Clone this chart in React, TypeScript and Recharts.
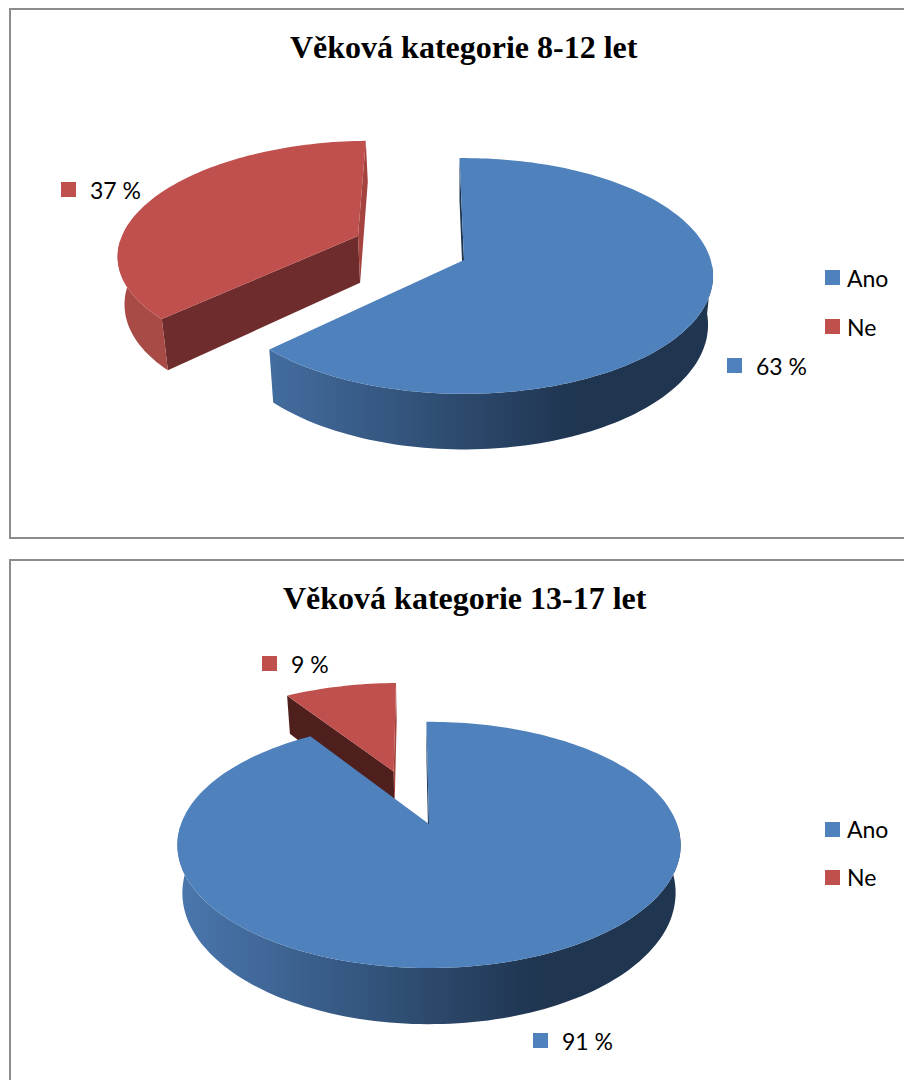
import React from 'react';
import { PieChart, Pie, Legend } from 'recharts';

// Chart data
const answers = ['Ano', 'Ne'];
const youngValues = [63, 37];
// the small slice goes first here, so the big one is painted over it
const olderAnswers = ['Ne', 'Ano'];
const olderValues = [9, 91];

const COLORS: Record<string, string> = { Ano: '#4f81bd', Ne: '#c0504d' };
const LABEL_FONT = 'Lato, "Open Sans", sans-serif';

function toRows(names: string[], values: number[]) {
  return names.map((name, i) => ({ name, value: values[i], fill: COLORS[name] }));
}

// Draws one slice as a tilted 3D wedge, from the angles that Pie works out
function Slice3D(props: any, view: any) {
  const { cx, cy, outerRadius, startAngle, endAngle, name } = props;
  const rad = Math.PI / 180;
  const pulled = name === 'Ne';
  const ox = pulled ? view.pushX : 0;
  const oy = pulled ? view.pushY : 0;
  const size = pulled ? view.pulledSize : 1;

  const top = (wx: number, wy: number) => {
    const s = 1 / (1 - view.k * wy);
    return [cx + outerRadius * wx * s, cy + outerRadius * view.tilt * wy * s];
  };
  const bottom = (wx: number, wy: number) => {
    const s = 1 / (1 - view.k * wy);
    const p = top(wx, wy);
    return [cx + (p[0] - cx) * 0.98, p[1] + view.depth * s];
  };
  const rim = (a: number, fn: any) => fn(ox + size * Math.cos(a * rad), oy - size * Math.sin(a * rad));
  const d = (pts: number[][]) =>
    'M' + pts.map((p) => p[0].toFixed(1) + ',' + p[1].toFixed(1)).join('L') + 'Z';

  const angles: number[] = [];
  const steps = Math.ceil(Math.abs(endAngle - startAngle) / 1.5);
  for (let i = 0; i <= steps; i++) angles.push(startAngle + ((endAngle - startAngle) * i) / steps);

  const apexTop = top(ox, oy);
  const apexBottom = bottom(ox, oy);
  const topFace = [apexTop, ...angles.map((a) => rim(a, top))];
  const wallAt = (a: number) => [apexTop, rim(a, top), rim(a, bottom), apexBottom];

  // outer wall as small quads, only the part that faces the viewer
  let outerPath = '';
  for (let i = 0; i < steps; i++) {
    const a = angles[i];
    const b = angles[i + 1];
    if (-Math.sin(a * rad) < 0.05 && -Math.sin(b * rad) < 0.05) continue;
    outerPath += d([rim(a, top), rim(b, top), rim(b, bottom), rim(a, bottom)]);
  }

  const walls = view.walls[name];
  const gradId = view.id + name;

  return (
    <g>
      <defs>
        <linearGradient id={gradId} gradientUnits="userSpaceOnUse" x1={cx - 250} x2={cx + 110} y1={0} y2={0}>
          {name === 'Ano' ? (
            <>
              <stop offset="0" stopColor="#4a77ae" />
              <stop offset="1" stopColor="#1f3550" />
            </>
          ) : (
            <>
              <stop offset="0" stopColor="#a84a46" />
              <stop offset="1" stopColor="#9c4340" />
            </>
          )}
        </linearGradient>
      </defs>
      {walls[0] && <path d={d(wallAt(startAngle))} fill={walls[0]} />}
      {walls[1] && <path d={d(wallAt(endAngle))} fill={walls[1]} />}
      <path d={outerPath} fill={`url(#${gradId})`} />
      <path d={d(topFace)} fill={props.fill} />
    </g>
  );
}

function SliceLabel(props: any, spots: any) {
  const spot = spots[props.name];
  return (
    <g>
      <rect x={spot.x} y={spot.y} width={15} height={15} fill={props.fill} />
      <text
        x={spot.x + 29}
        y={spot.y + 8}
        dominantBaseline="central"
        fontFamily={LABEL_FONT}
        fontSize={23}
        fill="#000"
      >
        {props.value + ' %'}
      </text>
    </g>
  );
}

function LegendList(props: any, gap: number) {
  const items = props.payload.slice().sort((a: any, b: any) => (a.value < b.value ? -1 : 1));
  return (
    <div style={{ fontFamily: LABEL_FONT, fontSize: 23, color: '#000' }}>
      {items.map((item: any) => (
        <div key={item.value} style={{ display: 'flex', alignItems: 'center', height: gap }}>
          <span style={{ width: 15, height: 15, background: item.color, marginRight: 7 }} />
          {item.value}
        </div>
      ))}
    </div>
  );
}

function Box(props: any) {
  const { title, titleLeft, top, height, rows, view, spots, pieProps, legendTop, gap } = props;
  return (
    <div
      style={{
        position: 'absolute',
        left: 9,
        top,
        width: 930,
        height,
        boxSizing: 'border-box',
        border: '2px solid #8c8c8c',
      }}
    >
      <div
        style={{
          position: 'absolute',
          left: titleLeft,
          top: 19,
          whiteSpace: 'nowrap',
          fontFamily: '"Liberation Serif", serif',
          fontWeight: 'bold',
          fontSize: 32,
          color: '#000',
        }}
      >
        {title}
      </div>
      <div style={{ position: 'absolute', left: -2, top: -2 }}>
        <PieChart width={904} height={height} margin={{ top: 0, right: 0, bottom: 0, left: 0 }}>
          <Pie
            data={rows}
            dataKey="value"
            nameKey="name"
            outerRadius={view.radius}
            stroke="none"
            labelLine={false}
            isAnimationActive={false}
            shape={(p: any) => Slice3D(p, view)}
            label={(p: any) => SliceLabel(p, spots)}
            {...pieProps}
          />
          <Legend
            layout="vertical"
            content={(p: any) => LegendList(p, gap)}
            wrapperStyle={{ left: 816, top: legendTop, width: 88, bottom: 'auto', right: 'auto' }}
          />
        </PieChart>
      </div>
    </div>
  );
}

export default function App() {
  return (
    <div style={{ position: 'absolute', left: 0, top: 0, width: 904, height: 1080, overflow: 'hidden', background: '#fff' }}>
      <Box
        title="Věková kategorie 8-12 let"
        titleLeft={279}
        top={8}
        height={531}
        rows={toRows(answers, youngValues)}
        view={{
          id: 'young',
          radius: 246.7,
          tilt: 0.469,
          k: 0.1356,
          depth: 48,
          pushX: -0.442,
          pushY: -0.2125,
          pulledSize: 0.985,
          walls: { Ano: ['#1f3550', null], Ne: ['#6f2c2c', '#a5443f'] },
        }}
        spots={{ Ne: { x: 52, y: 174 }, Ano: { x: 718, y: 350 } }}
        pieProps={{ cx: 455, cy: 252, startAngle: 91.2, endAngle: -268.8 }}
        legendTop={245}
        gap={49}
      />
      <Box
        title="Věková kategorie 13-17 let"
        titleLeft={272}
        top={559}
        height={540}
        rows={toRows(olderAnswers, olderValues)}
        view={{
          id: 'older',
          radius: 248,
          tilt: 0.482,
          k: 0.17,
          depth: 46.6,
          pushX: -0.154,
          pushY: -0.475,
          pulledSize: 1,
          walls: { Ano: ['#1f3550', null], Ne: ['#4f1f1d', '#a5443f'] },
        }}
        spots={{ Ne: { x: 253, y: 97 }, Ano: { x: 524, y: 474 } }}
        pieProps={{ cx: 420, cy: 265, startAngle: 123.1, endAngle: -236.9 }}
        legendTop={246}
        gap={48}
      />
    </div>
  );
}
